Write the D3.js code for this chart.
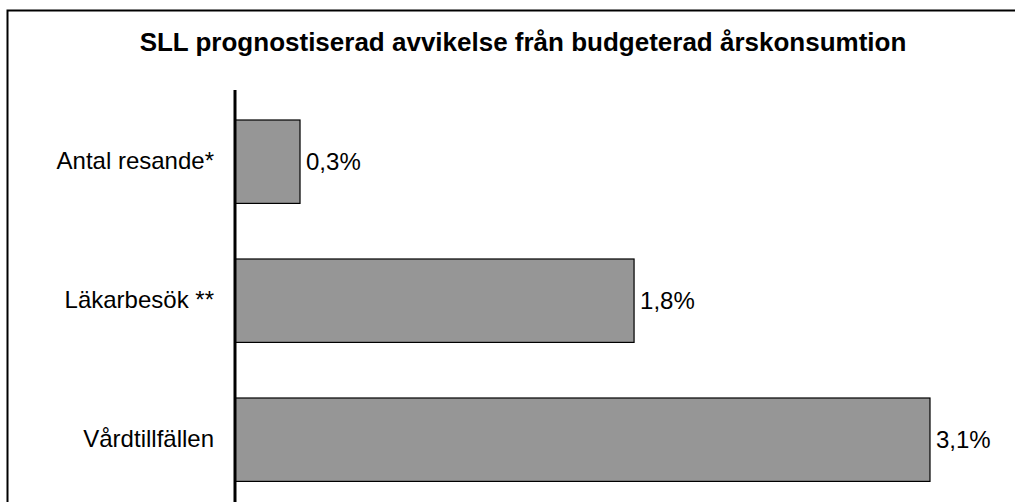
<!DOCTYPE html>
<html>
<head>
<meta charset="utf-8">
<script src="https://cdn.jsdelivr.net/npm/d3@7"></script>
<style>
  html, body { margin: 0; padding: 0; background: #fff; }
  svg { display: block; font-family: "Liberation Sans", Arial, sans-serif; }
</style>
</head>
<body>
<svg id="chart" width="1015" height="502"></svg>
<script>
const title = "SLL prognostiserad avvikelse från budgeterad årskonsumtion";
const categories = ["Antal resande*", "Läkarbesök **", "Vårdtillfällen"];
const values = [0.29, 1.78, 3.10];

const svg = d3.select("#chart");
const W = 1015, H = 502;

// outer frame (left and top edges visible)
svg.append("path")
  .attr("d", `M7.5,${H} L7.5,10.5 L${W},10.5`)
  .attr("fill", "none").attr("stroke", "#000").attr("stroke-width", 2);

svg.append("text")
  .attr("x", 523).attr("y", 51)
  .attr("text-anchor", "middle")
  .attr("font-size", 26).attr("font-weight", "bold")
  .attr("fill", "#000")
  .text(title);

const x = d3.scaleLinear().domain([0, 3.1]).range([235, 930]);
const y = d3.scaleBand().domain(categories).range([92.2, 509.2])
  .paddingInner(0.4).paddingOuter(0.2);

const fmt = v => d3.format(".1f")(v).replace(".", ",") + "%";

svg.selectAll("rect.bar").data(categories).join("rect")
  .attr("class", "bar")
  .attr("x", x(0))
  .attr("y", d => y(d))
  .attr("width", (d, i) => x(values[i]) - x(0))
  .attr("height", y.bandwidth())
  .attr("fill", "#969696")
  .attr("stroke", "#000").attr("stroke-width", 1.2);

svg.selectAll("text.val").data(categories).join("text")
  .attr("class", "val")
  .attr("x", (d, i) => x(values[i]) + 6)
  .attr("y", d => y(d) + y.bandwidth() / 2)
  .attr("dy", "0.35em")
  .attr("font-size", 24).attr("fill", "#000")
  .text((d, i) => fmt(values[i]));

const yAxis = svg.append("g")
  .attr("transform", `translate(${x(0)},0)`)
  .call(d3.axisLeft(y).tickSize(0).tickPadding(21));
yAxis.select(".domain").remove();
yAxis.selectAll("text").attr("font-size", 24).attr("fill", "#000")
  .attr("font-family", '"Liberation Sans", Arial, sans-serif');

svg.append("line")
  .attr("x1", x(0)).attr("x2", x(0))
  .attr("y1", 90).attr("y2", H)
  .attr("stroke", "#000").attr("stroke-width", 3);
</script>
</body>
</html>
